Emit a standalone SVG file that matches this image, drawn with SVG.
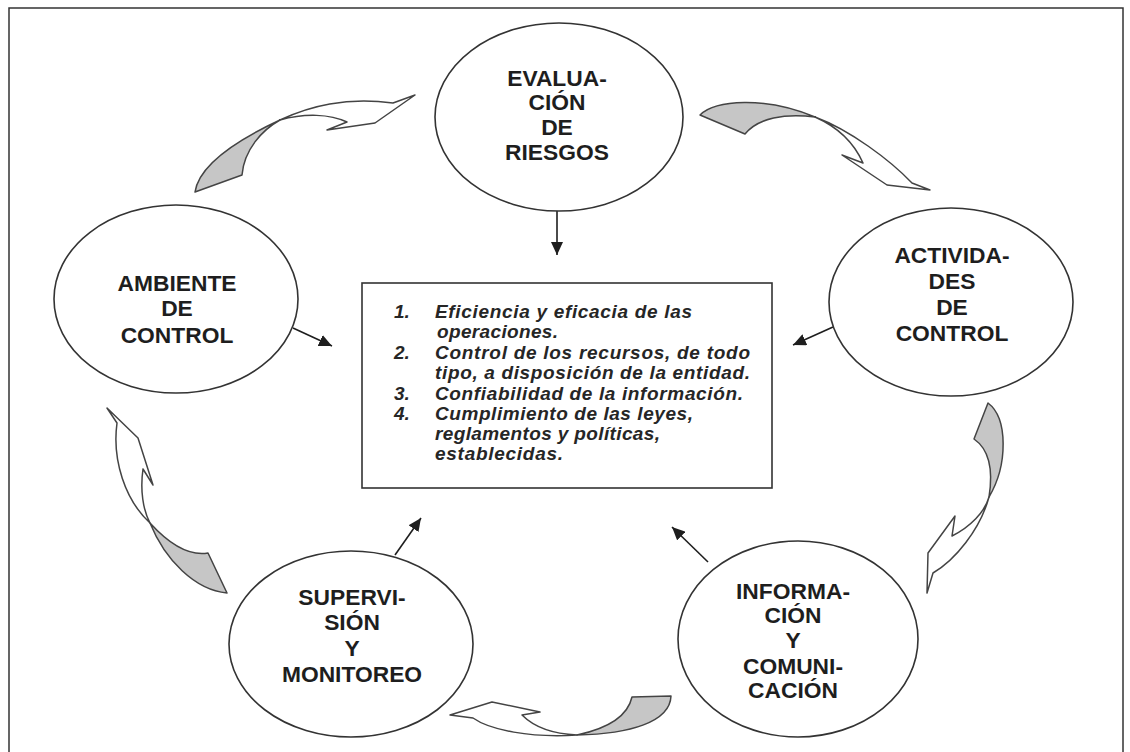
<svg xmlns="http://www.w3.org/2000/svg" width="1130" height="752" viewBox="0 0 1130 752">
<style>
.bg{fill:#fff}
.frame{fill:none;stroke:#333;stroke-width:1.5}
.node{fill:#fff;stroke:#333;stroke-width:1.6}
.lbl{font-family:"Liberation Sans",Arial,sans-serif;font-weight:bold;font-size:22.8px;fill:#1e1e1e;text-anchor:middle}
.box{fill:#fff;stroke:#333;stroke-width:1.6}
.itm{font-family:"Liberation Sans",Arial,sans-serif;font-weight:bold;font-style:italic;font-size:19px;fill:#262626}
.line{stroke:#1e1e1e;stroke-width:1.6;fill:none}
.tail{fill:#c6c6c6;stroke:#444;stroke-width:1.5;stroke-linejoin:round}
.rib{fill:#fff;stroke:#444;stroke-width:1.5;stroke-linejoin:round}
</style>
<defs>
<marker id="ah" markerUnits="userSpaceOnUse" markerWidth="14" markerHeight="12" refX="13" refY="6" orient="auto">
<path d="M0,0 L13,6 L0,12 Z" fill="#1e1e1e"/>
</marker>
</defs>
<rect class="bg" x="0" y="0" width="1130" height="752"/>
<rect class="frame" x="9" y="8" width="1114" height="760"/>

<g id="connectors">
<line class="line" x1="557" y1="211" x2="557" y2="255" marker-end="url(#ah)"/>
<line class="line" x1="293" y1="328" x2="332" y2="346" marker-end="url(#ah)"/>
<line class="line" x1="833" y1="327" x2="793" y2="345" marker-end="url(#ah)"/>
<line class="line" x1="395" y1="555" x2="421" y2="518" marker-end="url(#ah)"/>
<line class="line" x1="708" y1="562" x2="672" y2="527" marker-end="url(#ah)"/>

<g id="cycle-1">
<path class="tail" d="M195,192 C198,172 220,148 280,120 C262,130 244,150 242,175 Z"/>
<path class="rib" d="M280,120 C310,106 345,97 393,103 L415,95 L375,123 L327,130 L347,122 C330,114 305,113 280,120 Z"/>
</g>
<g id="cycle-2">
<path class="tail" d="M700,115 C715,100 765,96 815,117 C785,113 758,118 745,134 Z"/>
<path class="rib" d="M815,117 C850,130 890,160 912,183 L930,190 L887,185 L842,155 L863,163 C855,145 840,128 815,117 Z"/>
</g>
<g id="cycle-3">
<path class="tail" d="M988,403 C1008,418 1008,465 989,497 C993,472 990,450 974,439 Z"/>
<path class="rib" d="M989,497 C980,530 955,560 933,573 L927,593 L928,553 L955,516 L952,536 C970,527 985,512 989,497 Z"/>
</g>
<g id="cycle-4">
<path class="tail" d="M632,697 L671,696 C670,722 630,734 577,735 C610,728 628,715 632,697 Z"/>
<path class="rib" d="M577,735 C530,738 490,730 473,718 L450,715 L492,702 L540,712 L522,715 C535,728 555,734 577,735 Z"/>
</g>
<g id="cycle-5">
<path class="tail" d="M150,523 C170,545 190,556 208,553 L227,593 C195,590 165,560 150,523 Z"/>
<path class="rib" d="M150,523 C125,500 112,460 117,423 L107,408 L138,438 L153,485 L143,469 C140,490 143,510 150,523 Z"/>
</g>
</g>

<g id="node-evaluacion">
<ellipse class="node" cx="559" cy="117" rx="124" ry="94"/>
<text class="lbl" x="557" y="86">EVALUA-</text>
<text class="lbl" x="557" y="110">CIÓN</text>
<text class="lbl" x="557" y="135">DE</text>
<text class="lbl" x="557" y="160">RIESGOS</text>
</g>

<g id="node-ambiente">
<ellipse class="node" cx="176" cy="299" rx="122" ry="94"/>
<text class="lbl" x="177" y="291">AMBIENTE</text>
<text class="lbl" x="177" y="316">DE</text>
<text class="lbl" x="177" y="343">CONTROL</text>
</g>

<g id="node-actividades">
<ellipse class="node" cx="951" cy="302" rx="122" ry="94"/>
<text class="lbl" x="952" y="263">ACTIVIDA-</text>
<text class="lbl" x="952" y="289">DES</text>
<text class="lbl" x="952" y="315">DE</text>
<text class="lbl" x="952" y="341">CONTROL</text>
</g>

<g id="node-supervision">
<ellipse class="node" cx="351" cy="644" rx="122" ry="93"/>
<text class="lbl" x="352" y="605">SUPERVI-</text>
<text class="lbl" x="352" y="630">SIÓN</text>
<text class="lbl" x="352" y="656">Y</text>
<text class="lbl" x="352" y="682">MONITOREO</text>
</g>

<g id="node-informacion">
<ellipse class="node" cx="798" cy="639" rx="120" ry="98"/>
<text class="lbl" x="793" y="599">INFORMA-</text>
<text class="lbl" x="793" y="623">CIÓN</text>
<text class="lbl" x="793" y="648">Y</text>
<text class="lbl" x="793" y="674">COMUNI-</text>
<text class="lbl" x="793" y="698">CACIÓN</text>
</g>

<g id="node-objetivos">
<rect class="box" x="362" y="283" width="410" height="205"/>
<text class="itm" x="394" y="318">1.</text>
<text class="itm" x="435" y="318" textLength="257" lengthAdjust="spacing">Eficiencia y eficacia de las</text>
<text class="itm" x="437" y="338" textLength="121" lengthAdjust="spacing">operaciones.</text>
<text class="itm" x="394" y="359">2.</text>
<text class="itm" x="435" y="359" textLength="315" lengthAdjust="spacing">Control de los recursos, de todo</text>
<text class="itm" x="435" y="379" textLength="315" lengthAdjust="spacing">tipo, a disposición de la entidad.</text>
<text class="itm" x="394" y="400">3.</text>
<text class="itm" x="435" y="400" textLength="308" lengthAdjust="spacing">Confiabilidad de la información.</text>
<text class="itm" x="394" y="420">4.</text>
<text class="itm" x="435" y="420" textLength="258" lengthAdjust="spacing">Cumplimiento de las leyes,</text>
<text class="itm" x="435" y="440" textLength="225" lengthAdjust="spacing">reglamentos y políticas,</text>
<text class="itm" x="435" y="460" textLength="128" lengthAdjust="spacing">establecidas.</text>
</g>
</svg>
